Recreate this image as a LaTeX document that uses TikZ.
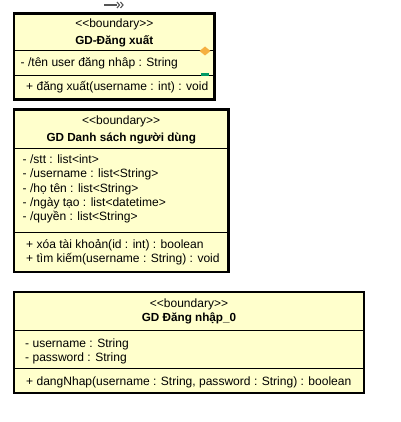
\documentclass[tikz,border=0pt]{standalone}
\usepackage{fontspec}
\setmainfont{Liberation Sans}
\definecolor{classfill}{HTML}{FFFFCC}
\definecolor{diam}{HTML}{F5B041}
\definecolor{grn}{HTML}{009966}
\definecolor{arrgray}{HTML}{555555}
\begin{document}
\begin{tikzpicture}[x=1pt,y=-1pt,
  box/.style={draw=black,line width=2.2pt,fill=classfill},
  sep/.style={draw=black,line width=1pt},
  txt/.style={inner sep=0pt,anchor=base west,font=\fontsize{12.05}{14}\selectfont},
  ctr/.style={inner sep=0pt,anchor=base,font=\fontsize{12}{14}\selectfont},
  ttl/.style={inner sep=0pt,anchor=base,font=\fontsize{11.7}{14}\selectfont\bfseries}]
\useasboundingbox (0,0) rectangle (400,422);

% top arrow fragment
\draw[arrgray,line width=1.6pt] (104,5) -- (117,5);
\draw[arrgray,line width=1.1pt] (117,2) -- (119.5,5) -- (117,8);
\draw[arrgray,line width=1.1pt] (120.5,2) -- (123,5) -- (120.5,8);

% Box 1
\draw[box] (14,13.5) rectangle (214.5,99.5);
\draw[sep] (14,51) -- (214.5,51);
\draw[sep] (14,75.5) -- (214.5,75.5);
\node[ctr] (s1) at (114.3,28) {<{}<boundary>{}>};
\node[ttl] (t1) at (114.3,45) {GD-Đăng xuất};
\node[txt] (a1) at (20.5,66.5) {- /tên user đăng nhâp : String};
\node[txt] (o1) at (26,91) {+ đăng xuất(username : int) : void};
\fill[diam] (205,46.5) -- (210.5,51) -- (205,55.5) -- (199.5,51) -- cycle;
\fill[grn] (200.5,73.3) rectangle (209,76.5);

% Box 2
\draw[box] (14,109.5) rectangle (228.5,272);
\draw[sep] (14,148) -- (228.5,148);
\draw[sep] (14,232) -- (228.5,232);
\node[ctr] (s2) at (121.2,124.5) {<{}<boundary>{}>};
\node[ttl] (t2) at (121.2,141.5) {GD Danh sách người dùng};
\node[txt] (a2a) at (22.5,163.3) {- /stt : list<int>};
\node[txt] (a2b) at (22.5,177.6) {- /username : list<String>};
\node[txt] (a2c) at (22.5,192) {- /họ tên : list<String>};
\node[txt] (a2d) at (22.5,206.3) {- /ngày tạo : list<datetime>};
\node[txt] (a2e) at (22.5,220.7) {- /quyền : list<String>};
\node[txt] (o2a) at (26,248.3) {+ xóa tài khoản(id : int) : boolean};
\node[txt] (o2b) at (26,262.7) {+ tìm kiếm(username : String) : void};

% Box 3
\draw[box] (14,292) rectangle (364,393);
\draw[sep] (14,330.5) -- (364,330.5);
\draw[sep] (14,368) -- (364,368);
\node[ctr] (s3) at (189,307.7) {<{}<boundary>{}>};
\node[ttl] (t3) at (189,321) {GD Đăng nhập\_0};
\node[txt] (a3a) at (25,347.3) {- username : String};
\node[txt] (a3b) at (25,361.3) {- password : String};
\node[txt] (o3) at (26,385) {+ dangNhap(username : String, password : String) : boolean};
\end{tikzpicture}
\end{document}
